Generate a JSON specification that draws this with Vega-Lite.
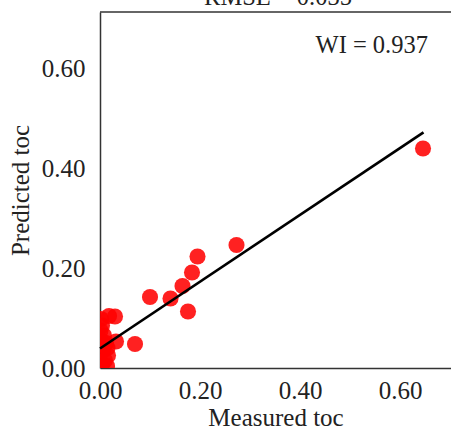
{
  "$schema": "https://vega.github.io/schema/vega-lite/v6.json",
  "width": 351,
  "height": 356,
  "autosize": "none",
  "padding": {"left": 100, "top": 12, "right": 0, "bottom": 64},
  "background": "white",
  "config": {
    "view": {"stroke": null},
    "font": "Liberation Serif",
    "style": {"guide-label": {"font": "Liberation Serif", "fontSize": 25, "fill": "#222"}, "guide-title": {"font": "Liberation Serif", "fontSize": 25, "fill": "#222", "fontWeight": "normal"}},
    "axis": {"grid": false, "ticks": false, "tickSize": 0, "domainColor": "#333", "domainWidth": 1.5, "labelFont": "Liberation Serif", "labelFontSize": 25, "labelColor": "#222", "titleFont": "Liberation Serif", "titleFontSize": 25, "titleFontWeight": "normal", "titleColor": "#222"}
  },
  "datasets": {
    "points": [
      {"measured": 0.646, "predicted": 0.439},
      {"measured": 0.273, "predicted": 0.246},
      {"measured": 0.195, "predicted": 0.223},
      {"measured": 0.184, "predicted": 0.191},
      {"measured": 0.165, "predicted": 0.164},
      {"measured": 0.141, "predicted": 0.139},
      {"measured": 0.100, "predicted": 0.142},
      {"measured": 0.176, "predicted": 0.113},
      {"measured": 0.070, "predicted": 0.048},
      {"measured": 0.030, "predicted": 0.103},
      {"measured": 0.032, "predicted": 0.053},
      {"measured": 0.018, "predicted": 0.104},
      {"measured": 0.002, "predicted": 0.098},
      {"measured": 0.004, "predicted": 0.085},
      {"measured": 0.001, "predicted": 0.075},
      {"measured": 0.008, "predicted": 0.065},
      {"measured": 0.003, "predicted": 0.055},
      {"measured": 0.012, "predicted": 0.050},
      {"measured": 0.008, "predicted": 0.045},
      {"measured": 0.015, "predicted": 0.040},
      {"measured": 0.006, "predicted": 0.035},
      {"measured": 0.016, "predicted": 0.025},
      {"measured": 0.010, "predicted": 0.015},
      {"measured": 0.004, "predicted": 0.008},
      {"measured": 0.014, "predicted": 0.004},
      {"measured": 0.002, "predicted": 0.002}
    ],
    "fit": [
      {"measured": 0.0, "predicted": 0.039},
      {"measured": 0.647, "predicted": 0.4714}
    ]
  },
  "layer": [
    {
      "data": {"name": "points"},
      "mark": {"type": "point", "shape": "circle", "filled": true, "size": 260, "color": "#ff0000", "opacity": 0.87, "strokeWidth": 0, "clip": true},
      "encoding": {
        "x": {"field": "measured", "type": "quantitative", "scale": {"domain": [0, 0.702], "nice": false, "zero": false}, "axis": {"orient": "bottom", "values": [0, 0.2, 0.4, 0.6], "format": ".2f", "labelFont": "Liberation Serif", "labelFontSize": 25, "labelPadding": 10, "titlePadding": 2, "title": "Measured toc", "labelFlush": false}},
        "y": {"field": "predicted", "type": "quantitative", "scale": {"domain": [0, 0.712], "nice": false, "zero": false}, "axis": {"values": [0, 0.2, 0.4, 0.6], "format": ".2f", "labelFont": "Liberation Serif", "labelFontSize": 25, "labelPadding": 15, "titlePadding": 8, "title": "Predicted toc", "labelFlush": false}}
      }
    },
    {
      "data": {"name": "fit"},
      "mark": {"type": "line", "color": "black", "strokeWidth": 2.7},
      "encoding": {
        "x": {"field": "measured", "type": "quantitative"},
        "y": {"field": "predicted", "type": "quantitative"}
      }
    },
    {
      "data": {"values": [{"edge": 0.712}]},
      "mark": {"type": "rule", "color": "#333", "strokeWidth": 1.5},
      "encoding": {
        "y": {"field": "edge", "type": "quantitative"}
      }
    },
    {
      "data": {"values": [{"label": "WI = 0.937", "lx": 0.656, "ly": 0.63}]},
      "mark": {"type": "text", "align": "right", "baseline": "alphabetic", "font": "Liberation Serif", "fontSize": 24.5, "color": "#222"},
      "encoding": {
        "x": {"field": "lx", "type": "quantitative"},
        "y": {"field": "ly", "type": "quantitative"},
        "text": {"field": "label"}
      }
    },
    {
      "data": {"values": [{"label": "RMSE = 0.035", "lx": 0.356, "ly": 0.727}]},
      "mark": {"type": "text", "align": "center", "baseline": "alphabetic", "font": "Liberation Serif", "fontSize": 24.5, "color": "#222"},
      "encoding": {
        "x": {"field": "lx", "type": "quantitative"},
        "y": {"field": "ly", "type": "quantitative"},
        "text": {"field": "label"}
      }
    }
  ]
}
